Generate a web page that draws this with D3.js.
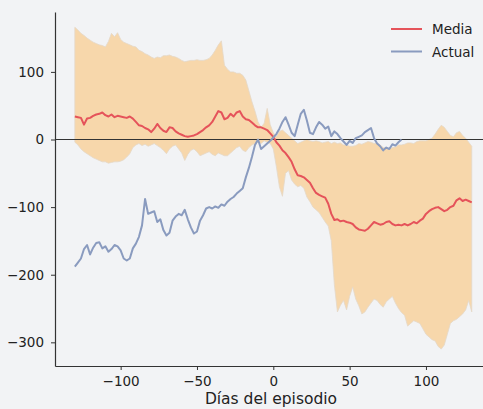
<!DOCTYPE html>
<html><head><meta charset="utf-8">
<script src="https://cdn.jsdelivr.net/npm/d3@7"></script>
<style>body{margin:0;background:#f2f3f5;} svg{display:block;background:#f2f3f5}</style>
</head><body><svg id="c" width="483" height="409"></svg>
<script>
const startDay = -130, step = 2;
const media = [
 34,33,32,22,31,32,35,37,38,40,
 36,34,37,33,35,34,33,32,34,31,
 26,21,20,17,15,11,16,23,17,13,
 11,18,17,12,9,7,5,4,5,6,
 8,11,14,18,21,26,34,42,40,30,
 32,38,34,40,42,34,30,29,25,21,
 18,18,16,14,9,4,-4,-9,-16,-20,
 -26,-33,-44,-53,-54,-56,-60,-64,-72,-79,
 -82,-84,-86,-95,-110,-119,-118,-121,-120,-122,
 -123,-125,-130,-133,-134,-135,-132,-127,-122,-124,
 -126,-125,-122,-121,-125,-127,-126,-127,-125,-127,
 -125,-122,-124,-120,-117,-110,-106,-103,-101,-100,
 -103,-106,-104,-100,-98,-90,-87,-91,-89,-91,
 -93];
const actual = [
 -188,-182,-176,-162,-156,-170,-160,-153,-152,-161,
 -158,-166,-162,-156,-158,-164,-176,-179,-176,-161,
 -154,-144,-127,-88,-110,-108,-106,-122,-118,-134,
 -142,-138,-120,-114,-110,-112,-104,-118,-130,-139,
 -136,-120,-112,-102,-100,-102,-99,-101,-96,-98,
 -92,-88,-85,-80,-76,-72,-56,-42,-26,-8,
 0,-14,-10,-6,-2,3,8,16,26,33,
 22,10,5,22,38,44,28,10,8,18,
 26,22,16,19,5,12,8,2,-3,-8,
 -2,-5,2,4,6,11,14,17,2,-6,
 -10,-16,-12,-14,-7,-9,-4,0];
const bandUpper = [
 166,162,157,154,150,147,144,142,140,139,
 137,145,157,152,158,148,144,142,140,138,
 137,132,130,127,125,122,120,122,121,124,
 124,125,123,122,120,117,115,116,117,117,
 118,117,117,118,120,125,132,140,146,110,
 104,100,100,98,98,95,88,72,56,42,
 26,18,24,46,22,10,4,12,14,10,
 6,2,-2,-6,-4,-2,0,-2,-3,-2,
 -3,-5,-4,-3,-6,-4,-6,-5,-8,-8,
 -10,-10,-9,-6,-7,-5,-3,-4,-6,-5,
 -8,-12,-13,-14,-12,-11,-8,-8,-7,-5,
 -5,-6,-3,-2,-2,-2,0,2,8,15,
 21,18,12,6,4,10,12,6,2,-4,
 -10];
const bandLower = [
 -4,-8,-14,-18,-21,-24,-27,-29,-31,-33,
 -33,-35,-34,-33,-33,-32,-30,-26,-21,-12,
 -8,-6,-9,-7,-10,-8,-6,-9,-12,-16,
 -21,-14,-10,-8,-14,-20,-31,-22,-16,-14,
 -18,-24,-22,-20,-18,-22,-24,-20,-22,-24,
 -24,-20,-16,-12,-10,-16,-18,-12,-8,-6,
 -4,-6,-2,-4,-6,-14,-40,-70,-84,-50,
 -46,-60,-66,-70,-68,-72,-85,-92,-100,-104,
 -108,-115,-122,-128,-150,-215,-255,-245,-238,-252,
 -232,-218,-236,-246,-258,-255,-248,-242,-236,-238,
 -244,-248,-240,-236,-232,-242,-250,-256,-260,-276,
 -272,-268,-270,-272,-280,-288,-292,-296,-298,-306,
 -310,-304,-288,-272,-268,-266,-262,-258,-252,-238,
 -255];
const xTicks = [-100, -50, 0, 50, 100];
const yTicks = [100, 0, -100, -200, -300];
const seriesNames = ["Media", "Actual"];
const seriesColors = ["#e5535a", "#8a9bbf"];
const xLabel = "Días del episodio";

const FONT = "'DejaVu Sans', 'Noto Sans', sans-serif";
const svg = d3.select("#c");
const x = d3.scaleLinear().domain([-143, 143]).range([55, 491.6]);
const y = d3.scaleLinear().domain([-335, 188.6]).range([366, 12]);
const day = i => startDay + i * step;

// band
const area = d3.area()
  .x((d, i) => x(day(i)))
  .y0((d, i) => y(bandLower[i]))
  .y1(d => y(d));
svg.append("path").datum(bandUpper).attr("d", area)
  .attr("fill", "#f7d7ab").attr("stroke", "#e4d8c8").attr("stroke-width", 0.8);

// zero line
svg.append("line").attr("x1", x(-143)).attr("x2", x(143))
  .attr("y1", y(0)).attr("y2", y(0)).attr("stroke", "#333").attr("stroke-width", 1);

const line = d3.line().x((d, i) => x(day(i))).y(d => y(d));
svg.append("path").datum(media).attr("d", line).attr("fill", "none")
  .attr("stroke", seriesColors[0]).attr("stroke-width", 2).attr("stroke-linejoin", "round");
svg.append("path").datum(actual).attr("d", line).attr("fill", "none")
  .attr("stroke", seriesColors[1]).attr("stroke-width", 2).attr("stroke-linejoin", "round");

const fmt = d => d < 0 ? "\u2212" + Math.abs(d) : String(d);
const gy = svg.append("g").attr("transform", "translate(55,0)")
  .call(d3.axisLeft(y).tickValues(yTicks).tickFormat(fmt).tickSize(4).tickSizeOuter(0).tickPadding(7));
const gx = svg.append("g").attr("transform", "translate(0,366)")
  .call(d3.axisBottom(x).tickValues(xTicks).tickFormat(fmt).tickSize(4).tickSizeOuter(0).tickPadding(6));
[gx, gy].forEach(g => {
  g.select(".domain").attr("stroke", "#333").attr("stroke-width", 1.2);
  g.selectAll(".tick line").attr("stroke", "#333").attr("stroke-width", 1);
  g.selectAll("text").attr("font-family", FONT).attr("font-size", 13.5).attr("fill", "#222");
});

svg.append("text").attr("x", 271).attr("y", 404).attr("text-anchor", "middle")
  .attr("font-family", FONT).attr("font-size", 15.5).attr("fill", "#222").text(xLabel);

// legend
const lg = svg.append("g");
seriesNames.forEach((n, i) => {
  const yy = 29 + i * 22.5;
  lg.append("line").attr("x1", 391).attr("x2", 422).attr("y1", yy).attr("y2", yy)
    .attr("stroke", seriesColors[i]).attr("stroke-width", 2);
  lg.append("text").attr("x", 432).attr("y", yy + 5).attr("font-family", FONT)
    .attr("font-size", 13.5).attr("fill", "#222").text(n);
});
</script>
</body></html>
